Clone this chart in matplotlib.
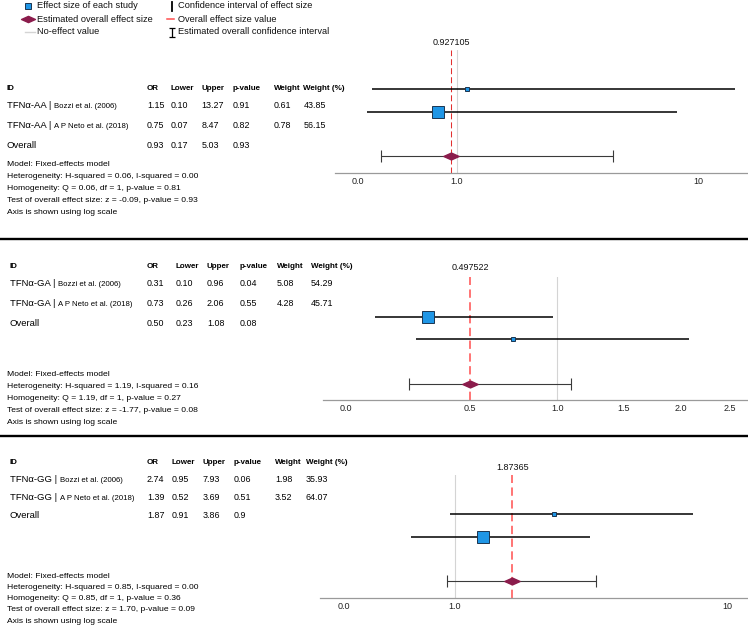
import matplotlib.pyplot as plt
import numpy as np
from matplotlib.path import Path
from matplotlib.ticker import NullLocator

plt.rcParams["font.family"] = ["Liberation Sans", "DejaVu Sans"]
plt.rcParams["lines.scale_dashes"] = False

W, H = 748, 625

columns = ["ID", "OR", "Lower", "Upper", "p-value", "Weight", "Weight (%)"]

# ---------------- TFNa-AA ----------------
aa_ids = ["TFNα-AA", "TFNα-AA", "Overall"]
aa_refs = ["Bozzi et al. (2006)", "A P Neto et al. (2018)", ""]
aa_or = ["1.15", "0.75", "0.93"]
aa_lower = ["0.10", "0.07", "0.17"]
aa_upper = ["13.27", "8.47", "5.03"]
aa_p = ["0.91", "0.82", "0.93"]
aa_weight = ["0.61", "0.78", ""]
aa_weight_pct = ["43.85", "56.15", ""]
aa_stats = ["Model: Fixed-effects model",
            "Heterogeneity: H-squared = 0.06, I-squared = 0.00",
            "Homogeneity: Q = 0.06, df = 1, p-value = 0.81",
            "Test of overall effect size: z = -0.09, p-value = 0.93",
            "Axis is shown using log scale"]
# positions as drawn on the axis
aa_est = [1.106, 0.834]
aa_lo = [0.448, 0.427]
aa_hi = [14.13, 8.16]
aa_overall = [0.950, 0.485, 4.44]
aa_label = "0.927105"
aa_ticks = [0.391, 1.0, 10.0]
aa_ticklabels = ["0.0", "1.0", "10"]
aa_xlim = (0.314, 16.0)

# ---------------- TFNa-GA ----------------
ga_ids = ["TFNα-GA", "TFNα-GA", "Overall"]
ga_refs = ["Bozzi et al. (2006)", "A P Neto et al. (2018)", ""]
ga_or = ["0.31", "0.73", "0.50"]
ga_lower = ["0.10", "0.26", "0.23"]
ga_upper = ["0.96", "2.06", "1.08"]
ga_p = ["0.04", "0.55", "0.08"]
ga_weight = ["5.08", "4.28", ""]
ga_weight_pct = ["54.29", "45.71", ""]
ga_stats = ["Model: Fixed-effects model",
            "Heterogeneity: H-squared = 1.19, I-squared = 0.16",
            "Homogeneity: Q = 1.19, df = 1, p-value = 0.27",
            "Test of overall effect size: z = -1.77, p-value = 0.08",
            "Axis is shown using log scale"]
ga_est = [0.320, 0.727]
ga_lo = [0.150, 0.276]
ga_hi = [0.974, 2.083]
ga_overall = [0.500, 0.253, 1.095]
ga_label = "0.497522"
ga_ticks = [0.084, 0.5, 1.0, 1.5, 2.0, 2.5]
ga_ticklabels = ["0.0", "0.5", "1.0", "1.5", "2.0", "2.5"]
ga_xlim = (0.0458, 2.694)

# ---------------- TFNa-GG ----------------
gg_ids = ["TFNα-GG", "TFNα-GG", "Overall"]
gg_refs = ["Bozzi et al. (2006)", "A P Neto et al. (2018)", ""]
gg_or = ["2.74", "1.39", "1.87"]
gg_lower = ["0.95", "0.52", "0.91"]
gg_upper = ["7.93", "3.69", "3.86"]
gg_p = ["0.06", "0.51", "0.9"]
gg_weight = ["1.98", "3.52", ""]
gg_weight_pct = ["35.93", "64.07", ""]
gg_stats = ["Model: Fixed-effects model",
            "Heterogeneity: H-squared = 0.85, I-squared = 0.00",
            "Homogeneity: Q = 0.85, df = 1, p-value = 0.36",
            "Test of overall effect size: z = 1.70, p-value = 0.09",
            "Axis is shown using log scale"]
gg_est = [2.317, 1.266]
gg_lo = [0.961, 0.690]
gg_hi = [7.48, 3.13]
gg_overall = [1.626, 0.935, 3.29]
gg_label = "1.87365"
gg_ticks = [0.391, 1.0, 10.0]
gg_ticklabels = ["0.0", "1.0", "10"]
gg_xlim = (0.321, 11.86)

BLUE = "#1f96e6"
MAROON = "#8b1c4c"
GREY = "#d4d4d4"

diamond = Path([(-1, 0), (0, 0.45), (1, 0), (0, -0.45), (-1, 0)],
               [Path.MOVETO, Path.LINETO, Path.LINETO, Path.LINETO, Path.CLOSEPOLY])

fig = plt.figure(figsize=(W / 100, H / 100), dpi=100)
ov = fig.add_axes([0, 0, 1, 1])
ov.set_xlim(0, W)
ov.set_ylim(H, 0)
ov.axis("off")

# ---------------- legend ----------------
ov.plot([28.5], [6], marker="s", ms=4.3, mfc=BLUE, mec="#1b3550", mew=0.7, ls="none")
ov.plot([28.5], [19], marker=diamond, ms=10, mfc=MAROON, mec=MAROON, ls="none")
ov.plot([25, 35], [32, 32], color=GREY, lw=1)
ov.plot([172, 172], [1.5, 11], color="black", lw=1.3)
ov.plot([167, 174], [19, 19], color="#ff5050", lw=1.1)
ov.errorbar([172], [32], yerr=[[4.5], [4.5]], fmt="none", ecolor="black",
            elinewidth=0.9, capsize=2.5, capthick=0.9)
leg_txt = [(36.7, 6, "Effect size of each study"),
           (36.7, 19, "Estimated overall effect size"),
           (36.7, 32, "No-effect value"),
           (177.7, 6, "Confidence interval of effect size"),
           (177.7, 19, "Overall effect size value"),
           (177.7, 32, "Estimated overall confidence interval")]
for x, y, s in leg_txt:
    ov.text(x, y, s, fontsize=6.7, va="center", color="#111")

# separators
ov.plot([0, W], [239, 239], color="black", lw=1.7)
ov.plot([0, W], [436, 436], color="black", lw=1.7)


def draw_panel(lay, ids, refs, cols, stats, est, lo, hi, wpct, overall,
               label, ticks, ticklabels, xlim, scale):
    # table on the left
    cx = lay["col_x"]
    for x, name in zip(cx, columns):
        ov.text(x, lay["header_y"], name, fontsize=5.8, fontweight="bold", va="center")
    for i, ry in enumerate(lay["row_y"]):
        if refs[i]:
            t = ov.text(cx[0], ry, ids[i] + " | ", fontsize=6.8, va="center")
            ov.annotate(refs[i], xy=(1, 0), xycoords=t, fontsize=5.6, va="bottom")
        else:
            ov.text(cx[0], ry, ids[i], fontsize=6.8, va="center")
        for x, col in zip(cx[1:], cols):
            ov.text(x, ry, col[i], fontsize=6.4, va="center")
    for k, line in enumerate(stats):
        ov.text(7, lay["model_y"] + k * lay["model_dy"], line, fontsize=6.1, va="center")

    # forest plot on the right
    unit = 22.3
    top = lay["row0"] - 1.77 * unit
    bottom = lay["row0"] + 3.75 * unit
    left = lay["ax_left"]
    ax = fig.add_axes([left / W, 1 - bottom / H, 1 - left / W, (bottom - top) / H])
    ax.set_facecolor("none")
    if scale == "log":
        ax.set_xscale("log")
    else:
        ax.set_xscale("function", functions=(np.sqrt, np.square))
    rows = [0, 1]
    ax.axvline(1.0, color=GREY, lw=0.8, zorder=1)
    ax.axvline(overall[0], color=lay["dash_color"], lw=lay["dash_lw"],
               dashes=lay["dashes"], zorder=2)
    ax.hlines(rows, lo, hi, color="black", lw=1.1, zorder=3)
    w = [float(v) for v in wpct[:2]]
    for r, e, wv in zip(rows, est, w):
        ms = 3.3 + (wv - min(w)) / (max(w) - min(w)) * 5.8
        ax.plot([e], [r], marker="s", ms=ms, mfc=BLUE, mec="#1b3550", mew=0.7,
                ls="none", zorder=4)
    ax.errorbar([overall[0]], [3], xerr=[[overall[0] - overall[1]], [overall[2] - overall[0]]],
                fmt="none", ecolor="#3a3a3a", elinewidth=0.8, capsize=4.5, capthick=0.8, zorder=3)
    ax.plot([overall[0]], [3], marker=diamond, ms=11, mfc=MAROON, mec=MAROON,
            ls="none", zorder=5)
    ax.annotate(label, xy=(overall[0], 1), xycoords=("data", "axes fraction"),
                xytext=(0, lay["label_off"]), textcoords="offset points",
                ha="center", va="center", fontsize=6.5, color="#111")
    ax.set_xlim(*xlim)
    ax.set_ylim(3.75, -1.77)
    ax.set_xticks(ticks)
    ax.set_xticklabels(ticklabels)
    ax.xaxis.set_minor_locator(NullLocator())
    ax.set_yticks([])
    ax.tick_params(axis="x", length=0, pad=3, labelsize=6.5, labelcolor="#222")
    for s in ["top", "left", "right"]:
        ax.spines[s].set_visible(False)
    ax.spines["bottom"].set_color("#9a9a9a")
    ax.spines["bottom"].set_linewidth(0.9)


lay_aa = dict(col_x=[7, 147, 170.5, 201.5, 233, 273.5, 303.5], header_y=88,
              row_y=[105, 125, 145], model_y=165, model_dy=12, row0=89.3,
              ax_left=335, dash_color="#e23030", dash_lw=0.75, dashes=(4.3, 2.2),
              label_off=5)
lay_ga = dict(col_x=[10, 147, 176, 207, 240, 277, 311], header_y=267,
              row_y=[283, 303, 323], model_y=374, model_dy=12, row0=316.7,
              ax_left=323.3, dash_color="#ff5c5c", dash_lw=1.2, dashes=(6, 3.2),
              label_off=7)
lay_gg = dict(col_x=[10, 147, 172, 203, 234, 275, 306], header_y=463,
              row_y=[479, 497, 515], model_y=576, model_dy=11.3, row0=514.3,
              ax_left=320, dash_color="#ff5c5c", dash_lw=1.2, dashes=(6, 3.2),
              label_off=5)

draw_panel(lay_aa, aa_ids, aa_refs, [aa_or, aa_lower, aa_upper, aa_p, aa_weight, aa_weight_pct],
           aa_stats, aa_est, aa_lo, aa_hi, aa_weight_pct, aa_overall, aa_label,
           aa_ticks, aa_ticklabels, aa_xlim, "log")
draw_panel(lay_ga, ga_ids, ga_refs, [ga_or, ga_lower, ga_upper, ga_p, ga_weight, ga_weight_pct],
           ga_stats, ga_est, ga_lo, ga_hi, ga_weight_pct, ga_overall, ga_label,
           ga_ticks, ga_ticklabels, ga_xlim, "sqrt")
draw_panel(lay_gg, gg_ids, gg_refs, [gg_or, gg_lower, gg_upper, gg_p, gg_weight, gg_weight_pct],
           gg_stats, gg_est, gg_lo, gg_hi, gg_weight_pct, gg_overall, gg_label,
           gg_ticks, gg_ticklabels, gg_xlim, "log")

fig.savefig("out.png", dpi=100)
